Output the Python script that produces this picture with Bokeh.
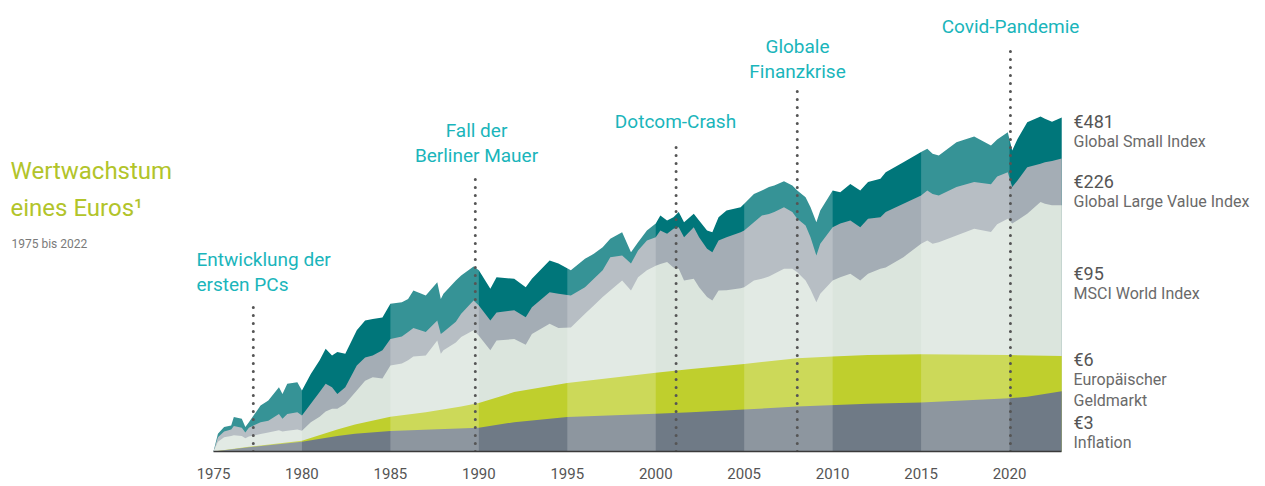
from bokeh.plotting import figure
from bokeh.models import Range1d, FixedTicker
from bokeh.core.properties import value
from bokeh.embed import file_html
from bokeh.resources import INLINE

# ---------------- data (value of 1 EUR invested) ----------------
dates = [
    1975.0, 1975.25, 1975.6, 1976.0, 1976.15, 1976.6, 1976.8, 1977.0, 1977.66, 1978.1,
    1978.7, 1978.9, 1979.17, 1979.74, 1980.0, 1980.5, 1981.0, 1981.34, 1981.7, 1982.0,
    1982.45, 1983.1, 1983.57, 1984.0,
    1984.55, 1985.0, 1985.65, 1986.0, 1986.3, 1987.0, 1987.65, 1987.85, 1988.0, 1988.7,
    1989.0, 1989.7, 1990.0, 1990.65, 1991.0, 1992.0, 1992.65, 1993.0, 1994.0, 1994.5,
    1995.2, 1996.0, 1996.5, 1997.0, 1997.43, 1998.1, 1998.6, 1999.0, 1999.5, 2000.0,
    2000.26, 2000.64, 2001.0, 2001.3, 2001.6, 2002.15, 2002.45, 2002.9, 2003.2, 2003.55,
    2004.0, 2004.8, 2005.0, 2005.55, 2006.0, 2006.4, 2006.7, 2007.25, 2007.72, 2008.0,
    2008.47, 2008.75, 2009.08, 2009.3, 2010.0, 2010.43, 2011.0, 2011.56, 2012.0, 2012.7,
    2013.0, 2014.0, 2015.0, 2015.35, 2015.65, 2016.0, 2017.0, 2018.0, 2018.95, 2019.3,
    2019.9, 2020.15, 2020.45, 2021.0, 2021.75, 2022.0, 2022.4, 2022.95]

global_small = [
    1.00, 1.39, 1.57, 1.62, 1.89, 1.83, 1.57, 1.72, 2.34, 2.57,
    3.28, 2.90, 3.50, 3.60, 3.09, 4.20, 5.40, 6.70, 5.90, 6.30,
    6.10, 9.40, 11.3, 11.6,
    11.9, 15.4, 15.8, 16.8, 19.6, 17.9, 22.9, 16.8, 18.5, 23.6,
    25.9, 30.6, 28.5, 20.3, 25.1, 24.4, 20.9, 24.4, 34.2, 32.3,
    28.5, 35.3, 38.7, 43.8, 51.1, 57.7, 39.9, 48.0, 59.6, 67.9,
    78.6, 71.7, 76.2, 83.9, 69.5, 81.1, 71.7, 59.6, 57.7, 76.2,
    86.3, 91.7, 97.6, 117, 125, 133, 137, 148, 137, 125,
    110, 91.7, 69.5, 86.3, 125, 121, 141, 125, 146, 155,
    175, 211, 254, 270, 246, 239, 305, 339, 287, 320,
    367, 262, 324, 442, 491, 470, 445, 481]

global_large_value = [
    1.00, 1.30, 1.45, 1.50, 1.60, 1.55, 1.42, 1.55, 1.72, 1.77,
    2.00, 1.83, 2.00, 2.07, 1.95, 2.42, 3.00, 3.50, 3.28, 2.90,
    3.28, 4.90, 5.70, 5.90,
    6.5, 8.0, 8.4, 9.1, 9.8, 9.1, 11.3, 8.8, 9.1, 11.0,
    12.8, 16.3, 14.9, 11.3, 13.1, 13.6, 12.0, 14.4, 19.0, 18.5,
    17.9, 20.9, 24.4, 28.5, 36.4, 37.5, 32.3, 41.1, 49.5, 52.6,
    59.6, 56.1, 61.5, 63.4, 52.6, 63.4, 52.6, 42.5, 39.9, 49.5,
    52.6, 57.7, 59.6, 69.5, 78.6, 81.0, 83.9, 91.7, 83.9, 74.0,
    65.3, 52.6, 37.5, 46.6, 63.4, 67.9, 71.7, 63.4, 74.0, 76.2,
    83.9, 97.6, 114, 125, 117, 114, 133, 146, 140, 162,
    175, 133, 150, 192, 205, 211, 215, 226]

msci_world = [
    1.00, 1.20, 1.30, 1.33, 1.35, 1.33, 1.28, 1.32, 1.38, 1.42,
    1.48, 1.45, 1.47, 1.50, 1.47, 1.72, 1.90, 2.10, 2.20, 2.20,
    2.42, 3.09, 3.70, 3.95,
    3.85, 4.9, 5.1, 5.4, 5.8, 5.9, 7.8, 6.1, 6.5, 7.5,
    8.3, 9.4, 8.5, 6.5, 7.8, 8.0, 7.2, 8.8, 10.6, 9.8,
    9.9, 12.8, 14.9, 17.4, 19.6, 23.6, 19.6, 25.1, 28.5, 31.1,
    32.0, 33.2, 30.1, 29.3, 23.6, 24.4, 20.9, 17.4, 16.3, 19.6,
    19.7, 20.5, 20.9, 23.6, 24.4, 25.5, 26.8, 29.3, 29.3, 27.5,
    23.6, 20.0, 15.8, 18.5, 23.6, 25.1, 26.8, 23.6, 26.8, 29.3,
    30.1, 36.4, 46.6, 49.5, 46.6, 48.0, 54.3, 61.5, 58.0, 67.0,
    74.0, 67.9, 72.0, 81.1, 101, 97.6, 95.0, 95.0]

geld_dates = [1975.0, 1977.0, 1980.0, 1982.0, 1983.0, 1985.0, 1987.0, 1989.0, 1990.0, 1992.0,
              1995.0, 2000.0, 2002.0, 2005.0, 2008.0, 2010.0, 2012.0, 2015.0, 2020.0, 2022.95]
geldmarkt = [1.00, 1.09, 1.22, 1.50, 1.65, 1.90, 2.07, 2.30, 2.45, 3.0,
             3.55, 4.3, 4.6, 5.05, 5.6, 5.8, 5.95, 6.05, 5.95, 5.85]

infl_dates = [1975.0, 1977.0, 1980.0, 1982.0, 1983.0, 1985.0, 1990.0, 1992.0, 1995.0, 2000.0,
              2002.0, 2005.0, 2008.0, 2012.0, 2015.0, 2020.0, 2021.0, 2022.95]
inflation = [1.00, 1.08, 1.20, 1.33, 1.39, 1.46, 1.55, 1.72, 1.89, 2.01,
             2.07, 2.17, 2.30, 2.42, 2.48, 2.68, 2.75, 3.05]

tick_years = [1975, 1980, 1985, 1990, 1995, 2000, 2005, 2010, 2015, 2020]
band_starts = [1975, 1985, 1995, 2005, 2015]
band_ends = [1980, 1990, 2000, 2010, 2020]

event_dates = [1977.25, 1989.8, 2001.15, 2008.0, 2020.05]
event_lines = [["Entwicklung der", "ersten PCs"], ["Fall der", "Berliner Mauer"],
               ["Dotcom-Crash"], ["Globale", "Finanzkrise"], ["Covid-Pandemie"]]

end_values = ["€481", "€226", "€95", "€6", "€3"]
end_names = [["Global Small Index"], ["Global Large Value Index"], ["MSCI World Index"],
             ["Europäischer", "Geldmarkt"], ["Inflation"]]

# ---------------- layout (page pixel helpers) ----------------
FONT = "Roboto"
W, H = 1265, 486
BASE = 451             # page y of the baseline (value 1)
BB = H - BASE
PXY = 17.69            # px per year
PXD = 124.5            # px per decade (log)
X0 = 1975 - 213 / PXY
X1 = X0 + W / PXY
YTOP = 10 ** (BASE / PXD)


def fx(px):
    return X0 + px / PXY


def fy(py):
    return 10 ** ((BASE - py) / PXD)


p = figure(width=W, height=H, output_backend="svg", toolbar_location=None,
           x_range=Range1d(X0, X1), y_range=Range1d(1, YTOP),
           y_axis_type="log", y_axis_location=None,
           min_border_left=0, min_border_right=0, min_border_top=0, min_border_bottom=BB)
p.outline_line_color = None
p.xgrid.visible = False
p.ygrid.visible = False
p.background_fill_color = "white"
p.border_fill_color = "white"

xa = p.xaxis[0]
xa.ticker = FixedTicker(ticks=tick_years)
xa.bounds = (dates[0], dates[-1])
xa.axis_line_color = "#3a3a3a"
xa.axis_line_width = 1.5
xa.major_tick_line_color = None
xa.minor_tick_line_color = None
xa.major_tick_out = 0
xa.major_tick_in = 0
xa.major_label_standoff = 16
xa.major_label_text_font = FONT
xa.major_label_text_font_size = "15px"
xa.major_label_text_color = "#555555"

# areas (overlapping, log scale from 1)
p.varea(x=dates, y1=1, y2=global_small, fill_color="#00767a")
p.varea(x=dates, y1=1, y2=global_large_value, fill_color="#a4adb5")
p.varea(x=dates, y1=1, y2=msci_world, fill_color="#dbe5dd")
p.varea(x=geld_dates, y1=1, y2=geldmarkt, fill_color="#bfcf2d")
p.varea(x=infl_dates, y1=1, y2=inflation, fill_color="#6f7a86")

# lighter 5-year bands
p.quad(left=band_starts, right=band_ends, bottom=1, top=YTOP,
       fill_color="white", fill_alpha=0.21, line_color=None)

# event dotted lines
tops_px = [300, 172, 141, 90, 45]
p.segment(x0=event_dates, y0=[1] * len(event_dates), x1=event_dates,
          y1=[fy(t) for t in tops_px], line_color="#555555", line_width=3,
          line_dash="0 8", line_cap="round")

TEAL = "#1ab5bb"
# event labels: anchor x px, first line y px, align
ev_layout = [(196, 259, "left"), (476, 130, "center"), (675, 121, "center"),
             (797, 46, "center"), (1010, 26, "center")]
for lines, (ax, ay, al) in zip(event_lines, ev_layout):
    p.text(x=[fx(ax)] * len(lines), y=[fy(ay + 25 * i) for i in range(len(lines))],
           text=lines, text_font=value(FONT), text_font_size="19px",
           text_color=TEAL, text_align=al, text_baseline="middle")

# title
GREEN = "#b2c42a"
p.text(x=[fx(10), fx(10)], y=[fy(170), fy(207)], text=["Wertwachstum", "eines Euros¹"],
       text_font=value(FONT), text_font_size="24px", text_color=GREEN,
       text_align="left", text_baseline="middle")
p.text(x=[fx(11)], y=[fy(243)], text=["1975 bis 2022"], text_font=value(FONT),
       text_font_size="12px", text_color="#7a7a7a", text_align="left", text_baseline="middle")

# end labels
end_y = [121, 181, 273, 359, 422]
for v, names, ey in zip(end_values, end_names, end_y):
    p.text(x=[fx(1073)], y=[fy(ey)], text=[v], text_font=value(FONT),
           text_font_size="18px", text_color="#555555", text_align="left",
           text_baseline="middle")
    p.text(x=[fx(1073)] * len(names), y=[fy(ey + 20 + 20.5 * i) for i in range(len(names))],
           text=names, text_font=value(FONT), text_font_size="16px",
           text_color="#6a6a6a", text_align="left", text_baseline="middle")

open("out.html", "w").write(file_html(p, INLINE))
